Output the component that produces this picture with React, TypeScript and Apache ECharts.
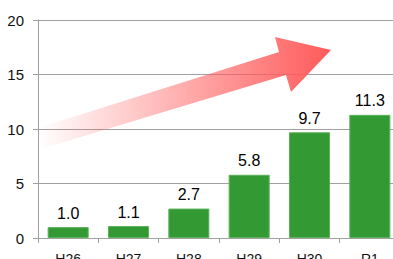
import React, { useEffect, useRef } from "react";
import * as echarts from "echarts";

const categories = ["H26", "H27", "H28", "H29", "H30", "R1"];
const values = [1.0, 1.1, 2.7, 5.8, 9.7, 11.3];
const yTicks = [0, 5, 10, 15, 20];

export default function App() {
  const ref = useRef<HTMLDivElement>(null);
  useEffect(() => {
    if (!ref.current) return;
    const chart = echarts.init(ref.current, null, { renderer: "svg" });
    chart.setOption({
      animation: false,
      grid: { left: 38, right: -7, top: 20, bottom: 21, containLabel: false, outerBoundsMode: "none" },
      xAxis: {
        type: "category",
        data: categories,
        axisLine: { lineStyle: { color: "#a0a0a0", width: 1 } },
        axisTick: { show: true, length: 5, lineStyle: { color: "#a0a0a0" } },
        axisLabel: {
          margin: 14,
          fontSize: 14,
          color: "#111",
          fontFamily: "Liberation Sans, Arial, sans-serif",
        },
      },
      yAxis: {
        type: "value",
        min: yTicks[0],
        max: yTicks[yTicks.length - 1],
        interval: 5,
        axisLine: { show: true, lineStyle: { color: "#a0a0a0", width: 1 } },
        axisTick: { show: true, length: 5, lineStyle: { color: "#a0a0a0" } },
        splitLine: { show: true, lineStyle: { color: "#a0a0a0", width: 1 } },
        axisLabel: {
          margin: 14,
          fontSize: 15,
          color: "#111",
          fontFamily: "Liberation Sans, Arial, sans-serif",
        },
      },
      series: [
        {
          type: "bar",
          data: values,
          barCategoryGap: "32%",
          itemStyle: { color: "#339933", borderColor: "#5cb35c", borderWidth: 1 },
          label: {
            show: true,
            position: "top",
            distance: 6,
            fontSize: 16,
            color: "#000",
            fontFamily: "Liberation Sans, Arial, sans-serif",
            formatter: (p: any) => Number(p.value).toFixed(1),
          },
          z: 2,
        },
      ],
      graphic: [
        {
          type: "polygon",
          z: 10,
          shape: {
            points: [
              [38, 128],
              [279, 52],
              [275, 37],
              [331, 50],
              [291, 92],
              [286, 75],
              [41, 149],
            ],
          },
          style: {
            fill: new echarts.graphic.LinearGradient(0, 0, 1, 0, [
              { offset: 0, color: "rgba(255,90,90,0)" },
              { offset: 1, color: "rgba(255,90,90,1)" },
            ]),
          },
        },
      ],
    });
    return () => chart.dispose();
  }, []);
  return <div ref={ref} style={{ width: 393, height: 259, position: "absolute", left: 0, top: 0 }} />;
}
